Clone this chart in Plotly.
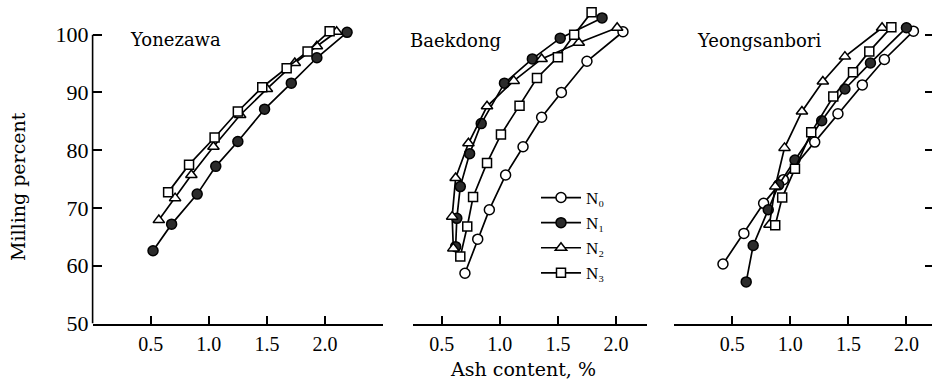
import plotly.graph_objects as go

# ---------------- data ----------------
series_names = ["N\u2080", "N\u2081", "N\u2082", "N\u2083"]
panel_titles = ["Yonezawa", "Baekdong", "Yeongsanbori"]
x_tick_vals = [0.5, 1.0, 1.5, 2.0]
x_tick_text = ["0.5", "1.0", "1.5", "2.0"]
y_tick_vals = [50, 60, 70, 80, 90, 100]
y_tick_text = ["50", "60", "70", "80", "90", "100"]

# Yonezawa
yon_n1_ash = [0.52, 0.68, 0.90, 1.06, 1.25, 1.48, 1.71, 1.93, 2.19]
yon_n1_mill = [62.6, 67.2, 72.4, 77.2, 81.5, 87.1, 91.6, 96.0, 100.4]
yon_n2_ash = [0.57, 0.71, 0.85, 1.04, 1.27, 1.50, 1.74, 1.93, 2.10]
yon_n2_mill = [67.9, 71.7, 75.7, 80.6, 86.1, 90.6, 95.1, 98.0, 100.5]
yon_n3_ash = [0.65, 0.83, 1.05, 1.25, 1.46, 1.67, 1.85, 2.04]
yon_n3_mill = [72.7, 77.5, 82.2, 86.7, 90.9, 94.2, 97.1, 100.6]

# Baekdong
bae_n0_ash = [0.70, 0.81, 0.91, 1.05, 1.20, 1.36, 1.53, 1.75, 2.06]
bae_n0_mill = [58.7, 64.6, 69.7, 75.7, 80.6, 85.7, 90.0, 95.4, 100.5]
bae_n1_ash = [0.62, 0.63, 0.66, 0.74, 0.84, 1.04, 1.28, 1.52, 1.88]
bae_n1_mill = [63.3, 68.2, 73.7, 79.4, 84.6, 91.6, 95.8, 99.4, 102.9]
bae_n2_ash = [0.60, 0.59, 0.62, 0.73, 0.89, 1.12, 1.36, 1.68, 2.01]
bae_n2_mill = [63.0, 68.5, 75.2, 81.2, 87.6, 92.0, 95.8, 98.6, 101.2]
bae_n3_ash = [0.66, 0.72, 0.77, 0.89, 1.01, 1.17, 1.32, 1.50, 1.64, 1.79]
bae_n3_mill = [61.6, 66.8, 71.9, 77.8, 82.7, 87.7, 92.5, 96.1, 100.0, 103.9]

# Yeongsanbori
yeo_n0_ash = [0.42, 0.60, 0.77, 0.94, 1.21, 1.41, 1.62, 1.81, 2.06]
yeo_n0_mill = [60.3, 65.6, 70.8, 74.9, 81.4, 86.3, 91.3, 95.7, 100.6]
yeo_n1_ash = [0.62, 0.68, 0.81, 0.90, 1.04, 1.27, 1.47, 1.69, 2.00]
yeo_n1_mill = [57.2, 63.5, 69.7, 74.0, 78.3, 85.1, 90.6, 95.1, 101.2]
yeo_n2_ash = [0.82, 0.87, 0.95, 1.10, 1.28, 1.47, 1.79]
yeo_n2_mill = [67.1, 73.7, 80.4, 86.7, 91.9, 96.2, 101.2]
yeo_n3_ash = [0.87, 0.93, 1.04, 1.18, 1.37, 1.54, 1.68, 1.87]
yeo_n3_mill = [67.0, 71.8, 76.8, 83.1, 89.3, 93.5, 97.1, 101.3]

# ---------------- styles ----------------
W, H = 932, 381
SERIF = "DejaVu Serif"
TICKFONT = "Liberation Serif"
styles = {
    0: dict(symbol="circle", color="white", size=10),
    1: dict(symbol="circle", color="#2b2b2b", size=10),
    2: dict(symbol="triangle-up", color="white", size=10),
    3: dict(symbol="square", color="white", size=9),
}

fig = go.Figure()
legend_done = set()


def add(xs, ys, k, xa, ya):
    st = styles[k]
    show = k not in legend_done
    legend_done.add(k)
    fig.add_trace(go.Scatter(
        x=xs, y=ys, mode="lines+markers", xaxis=xa, yaxis=ya,
        name=series_names[k], legendgroup=str(k), showlegend=show,
        line=dict(color="black", width=1.7),
        marker=dict(symbol=st["symbol"], size=st["size"], color=st["color"],
                    line=dict(color="black", width=1.5)),
        cliponaxis=False,
    ))


# order legend N0..N3 by adding in Baekdong first
add(bae_n0_ash, bae_n0_mill, 0, "x2", "y")
add(bae_n1_ash, bae_n1_mill, 1, "x2", "y")
add(bae_n2_ash, bae_n2_mill, 2, "x2", "y")
add(bae_n3_ash, bae_n3_mill, 3, "x2", "y")

add(yon_n1_ash, yon_n1_mill, 1, "x", "y")
add(yon_n2_ash, yon_n2_mill, 2, "x", "y")
add(yon_n3_ash, yon_n3_mill, 3, "x", "y")

add(yeo_n0_ash, yeo_n0_mill, 0, "x3", "y3")
add(yeo_n1_ash, yeo_n1_mill, 1, "x3", "y3")
add(yeo_n2_ash, yeo_n2_mill, 2, "x3", "y3")
add(yeo_n3_ash, yeo_n3_mill, 3, "x3", "y3")

PX = 116.2  # pixels per ash unit


def dom(px0, px1):
    return [px0 / W, min(px1 / W, 1.0)]


xcommon = dict(
    showline=True, linecolor="black", linewidth=1.6,
    ticks="inside", ticklen=8, tickwidth=1.5, tickcolor="black",
    tickvals=x_tick_vals, ticktext=x_tick_text,
    tickfont=dict(family=TICKFONT, size=20, color="black"),
    showgrid=False, zeroline=False, ticklabelstandoff=2, automargin=False,
)

y_bottom_px = 323.5
y_range = [50, 106]
y_dom = [1 - y_bottom_px / H, 1.0]

x1_range = [0.0, 2.5]
x1_px0 = 92.6
x2_range = [0.25, 2.27]
x2_px0 = 441.7 - 0.25 * PX
x3_range = [0.0, 2.22]
x3_px0 = 732.3 - 0.5 * PX

fig.update_layout(
    width=W, height=H,
    margin=dict(l=0, r=0, t=0, b=0, pad=0, autoexpand=False),
    paper_bgcolor="white", plot_bgcolor="rgba(0,0,0,0)",
    xaxis=dict(domain=dom(x1_px0, x1_px0 + (x1_range[1] - x1_range[0]) * PX),
               range=x1_range, anchor="y", **xcommon),
    xaxis2=dict(domain=dom(x2_px0, x2_px0 + (x2_range[1] - x2_range[0]) * PX),
                range=x2_range, anchor="y", **xcommon),
    xaxis3=dict(domain=dom(x3_px0, x3_px0 + (x3_range[1] - x3_range[0]) * PX),
                range=x3_range, anchor="y3", **xcommon),
    yaxis=dict(domain=y_dom, range=y_range, anchor="x",
               showline=False, ticks="inside", ticklen=9, tickwidth=1.5,
               tickcolor="black", tickvals=y_tick_vals, ticktext=y_tick_text,
               tickfont=dict(family=TICKFONT, size=22, color="black"),
               showgrid=False, zeroline=False, ticklabelstandoff=3,
               automargin=False),
    yaxis3=dict(domain=y_dom, range=y_range, anchor="x3", side="right",
                showline=True, linecolor="black", linewidth=1.5,
                ticks="inside", ticklen=7, tickwidth=1.5, tickcolor="black",
                tickvals=y_tick_vals, showticklabels=False,
                showgrid=False, zeroline=False, automargin=False),
    showlegend=True,
    legend=dict(x=536 / W, y=1 - 180 / H, xanchor="left", yanchor="top",
                bgcolor="rgba(0,0,0,0)", borderwidth=0,
                font=dict(family=TICKFONT, size=17, color="black"),
                tracegroupgap=0, itemwidth=40),
)

# panel 1 y-axis line (from 50 to 100)
fig.add_shape(type="line", xref="x domain", yref="y", x0=0, x1=0, y0=50, y1=100,
              line=dict(color="black", width=1.6))

# panel titles
title_pos = [(128, 39), (408, 41), (695, 41)]
for t, (px, py) in zip(panel_titles, title_pos):
    fig.add_annotation(text=t, x=px / W, y=1 - py / H, xref="paper", yref="paper",
                       xanchor="left", yanchor="middle", showarrow=False,
                       font=dict(family=SERIF, size=18, color="black"))

fig.add_annotation(text="Milling percent", x=18 / W, y=1 - 187 / H, xref="paper",
                   yref="paper", textangle=-90, showarrow=False,
                   xanchor="center", yanchor="middle",
                   font=dict(family=SERIF, size=19, color="black"))
fig.add_annotation(text="Ash content, %", x=523 / W, y=1 - 369 / H, xref="paper",
                   yref="paper", showarrow=False, xanchor="center", yanchor="middle",
                   font=dict(family=SERIF, size=19, color="black"))

# remove the browser's default 8px page margin so the figure sits at (0, 0)
fig.write_html(
    "out.html",
    config={"displayModeBar": False},
    post_script="document.body.style.margin='0px';document.body.style.overflow='hidden';",
)
